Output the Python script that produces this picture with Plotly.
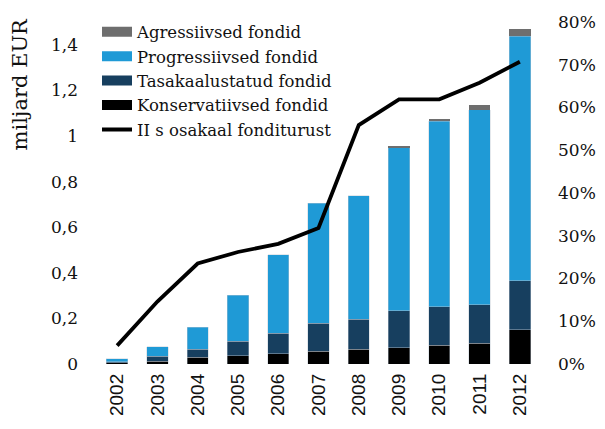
import plotly.graph_objects as go

years = ["2002", "2003", "2004", "2005", "2006", "2007", "2008", "2009", "2010", "2011", "2012"]
konservatiivsed = [0.005, 0.013, 0.030, 0.037, 0.046, 0.056, 0.064, 0.072, 0.082, 0.091, 0.151]
tasakaalustatud = [0.005, 0.022, 0.035, 0.062, 0.089, 0.123, 0.132, 0.161, 0.169, 0.169, 0.215]
progressiivsed = [0.012, 0.041, 0.097, 0.203, 0.345, 0.525, 0.543, 0.715, 0.813, 0.856, 1.071]
agressiivsed = [0.0, 0.0, 0.0, 0.0, 0.0, 0.0, 0.0, 0.010, 0.010, 0.022, 0.034]
osakaal = [0.043, 0.146, 0.235, 0.262, 0.281, 0.318, 0.559, 0.619, 0.619, 0.658, 0.707]

left_ticks = [0, 0.2, 0.4, 0.6, 0.8, 1.0, 1.2, 1.4]
left_ticktext = ["0", "0,2", "0,4", "0,6", "0,8", "1", "1,2", "1,4"]
right_ticks = [0, 0.1, 0.2, 0.3, 0.4, 0.5, 0.6, 0.7, 0.8]
right_ticktext = ["0%", "10%", "20%", "30%", "40%", "50%", "60%", "70%", "80%"]

SERIF = "DejaVu Serif"
edge = dict(color="rgba(190,200,210,0.7)", width=0.6)

series = [
    ("Konservatiivsed fondid", konservatiivsed, "#000000"),
    ("Tasakaalustatud fondid", tasakaalustatud, "#173f5f"),
    ("Progressiivsed fondid", progressiivsed, "#1f9ad6"),
    ("Agressiivsed fondid", agressiivsed, "#6e6e6e"),
]

fig = go.Figure()
for name, vals, col in series:
    fig.add_trace(go.Bar(x=years, y=vals, name=name, showlegend=False,
                         marker=dict(color=col, line=edge if col != "#6e6e6e" else dict(width=0))))

# legend entries as wide swatches (in reference order)
for name, vals, col in reversed(series):
    fig.add_trace(go.Scatter(x=[None], y=[None], name=name, mode="lines",
                             line=dict(color=col, width=14)))
fig.add_trace(go.Scatter(x=years, y=osakaal, name="II s osakaal fonditurust", yaxis="y2",
                         mode="lines", line=dict(color="#000000", width=3.8)))

# the page body adds an 8px offset; margins compensate so the plot area lands where the reference has it
fig.update_layout(
    width=605, height=429,
    margin=dict(l=89, r=73, t=14, b=73, autoexpand=False),
    paper_bgcolor="white", plot_bgcolor="white",
    barmode="stack", bargap=0.47,
    font=dict(family=SERIF, size=16, color="#111111"),
    showlegend=True,
    legend=dict(x=0.0, y=1.022, xanchor="left", yanchor="top", bgcolor="rgba(0,0,0,0)",
                font=dict(family=SERIF, size=16.5), tracegroupgap=0, traceorder="normal"),
    xaxis=dict(type="category", tickangle=-90, showgrid=False, showline=False, ticks="",
               automargin=False, ticklabelstandoff=5,
               tickfont=dict(family="Liberation Sans", size=19, color="#111111")),
    yaxis=dict(range=[0, 1.5], tickvals=left_ticks, ticktext=left_ticktext, showgrid=False,
               zeroline=False, showline=False, ticks="", ticklabelstandoff=18, automargin=False,
               tickfont=dict(family=SERIF, size=17)),
    yaxis2=dict(range=[0, 0.8], tickvals=right_ticks, ticktext=right_ticktext, overlaying="y",
                side="right", showgrid=False, zeroline=False, showline=False, ticks="",
                ticklabelstandoff=17, automargin=False, tickfont=dict(family=SERIF, size=17)),
    annotations=[dict(text="miljard EUR", textangle=-90, xref="paper", yref="paper",
                      x=-0.174, y=0.820, xanchor="center", yanchor="middle", showarrow=False,
                      font=dict(family=SERIF, size=21))],
)

fig.write_html("out.html")
